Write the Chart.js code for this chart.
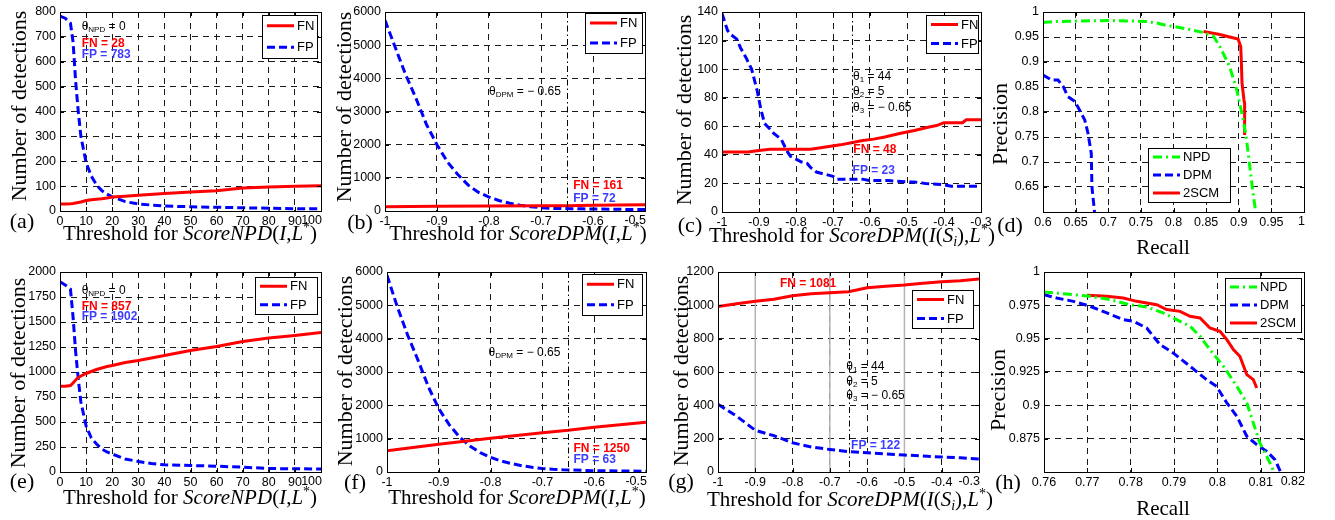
<!DOCTYPE html>
<html>
<head>
<meta charset="utf-8">
<title>FN / FP and precision-recall curves</title>
<script src="https://cdn.jsdelivr.net/npm/chart.js@4/dist/chart.umd.min.js"></script>
<style>
  body { margin: 0; background: #fff; }
  #fig { position: relative; width: 1335px; height: 520px; overflow: hidden; font-family: 'Liberation Serif', 'Times New Roman', serif; color: #000; }
  #fig canvas { position: absolute; }
  .t { position: absolute; white-space: nowrap; line-height: 1; font-size: 21px; z-index: 5; }
  .xt { transform: translateX(-50%); }
  .yt { transform: translate(-50%, -50%) rotate(-90deg); font-size: 22px; }
  .pl { transform: translate(-50%, -50%); font-size: 22px; }
  .sp { font-size: 14px; position: relative; top: -8px; }
  .sb { font-size: 14px; position: relative; top: 4px; }
</style>
</head>
<body>
<div id="fig">
  <div class="t xt" style="left:190px;top:223px">Threshold for <i>ScoreNPD</i>(<i>I</i>,<i>L</i><span class="sp">*</span>)</div>
  <div class="t xt" style="left:518px;top:223px">Threshold for <i>ScoreDPM</i>(<i>I</i>,<i>L</i><span class="sp">*</span>)</div>
  <div class="t xt" style="left:852px;top:225px">Threshold for <i>ScoreDPM</i>(<i>I</i>(<i>S<span class="sb">i</span></i>),<i>L</i><span class="sp">*</span>)</div>
  <div class="t xt" style="left:1163px;top:237px">Recall</div>
  <div class="t xt" style="left:190px;top:487px">Threshold for <i>ScoreNPD</i>(<i>I</i>,<i>L</i><span class="sp">*</span>)</div>
  <div class="t xt" style="left:517px;top:487px">Threshold for <i>ScoreDPM</i>(<i>I</i>,<i>L</i><span class="sp">*</span>)</div>
  <div class="t xt" style="left:850px;top:489px">Threshold for <i>ScoreDPM</i>(<i>I</i>(<i>S<span class="sb">i</span></i>),<i>L</i><span class="sp">*</span>)</div>
  <div class="t xt" style="left:1163px;top:498px">Recall</div>

  <div class="t yt" style="left:19px;top:106px">Number of detections</div>
  <div class="t yt" style="left:344px;top:107px">Number of detections</div>
  <div class="t yt" style="left:684px;top:110px">Number of detections</div>
  <div class="t yt" style="left:1000px;top:124px">Precision</div>
  <div class="t yt" style="left:18px;top:373px">Number of detections</div>
  <div class="t yt" style="left:345px;top:371px">Number of detections</div>
  <div class="t yt" style="left:681px;top:371px">Number of detections</div>
  <div class="t yt" style="left:998px;top:390px">Precision</div>

  <div class="t pl" style="left:22px;top:221px">(a)</div>
  <div class="t pl" style="left:360px;top:222px">(b)</div>
  <div class="t pl" style="left:690px;top:225px">(c)</div>
  <div class="t pl" style="left:1010px;top:225px">(d)</div>
  <div class="t pl" style="left:22px;top:481px">(e)</div>
  <div class="t pl" style="left:355px;top:482px">(f)</div>
  <div class="t pl" style="left:681px;top:481px">(g)</div>
  <div class="t pl" style="left:1008px;top:482px">(h)</div>
</div>
<script>
// (a) NPD threshold, set 1
const aThreshold = [0, 2, 4, 5, 6, 7, 8, 10, 12, 14, 16, 18, 20, 25, 30, 40, 50, 60, 70, 80, 90, 100];
const aFN = [28, 28, 29, 30, 32, 34, 36, 42, 45, 47, 49, 52, 56, 59, 63, 70, 76, 81, 92, 96, 99, 102];
const aFP = [783, 775, 755, 680, 520, 400, 300, 195, 140, 105, 82, 68, 57, 38, 28, 20, 17, 15, 13, 11, 9, 9];

// (b) DPM threshold, set 1
const bThreshold = [-1, -0.98, -0.96, -0.94, -0.92, -0.9, -0.88, -0.86, -0.84, -0.82, -0.8, -0.78, -0.76, -0.74, -0.72, -0.7, -0.68, -0.66, -0.64, -0.62, -0.6, -0.55, -0.5];
const bFP = [5750, 4920, 4100, 3380, 2600, 2000, 1480, 1100, 780, 560, 420, 310, 235, 175, 130, 100, 80, 73, 70, 65, 60, 50, 45];
const bThresholdFN = [-1, -0.9, -0.8, -0.7, -0.65, -0.6, -0.5];
const bFN = [125, 140, 150, 155, 161, 170, 190];

// (c) two-stage, set 1
const cThresholdFP = [-1, -0.985, -0.975, -0.96, -0.95, -0.935, -0.92, -0.905, -0.895, -0.885, -0.87, -0.86, -0.84, -0.825, -0.815, -0.8, -0.785, -0.77, -0.76, -0.745, -0.73, -0.715, -0.7, -0.69, -0.62, -0.6, -0.55, -0.5, -0.48, -0.45, -0.42, -0.4, -0.38, -0.3];
const cFP = [139, 127, 124, 121, 115, 108, 100, 85, 72, 62, 58, 55, 51, 43, 39, 37, 35, 34, 31, 28, 27, 26, 25, 23, 23, 22, 22, 21, 21, 20, 19.5, 19, 18, 18];
const cThresholdFN = [-1, -0.93, -0.9, -0.87, -0.76, -0.72, -0.68, -0.65, -0.62, -0.59, -0.56, -0.52, -0.48, -0.44, -0.42, -0.4, -0.35, -0.34, -0.3];
const cFN = [42, 42, 43, 44, 44, 45.5, 47, 48.5, 50, 51, 52.5, 55, 57, 59.5, 60.5, 62.5, 62.5, 64.5, 64.5];

// (d) precision / recall, set 1
const dNpdRecall = [0.6, 0.62, 0.66, 0.7, 0.74, 0.758, 0.774, 0.789, 0.805, 0.825, 0.846, 0.861, 0.871, 0.886, 0.897, 0.907, 0.912, 0.917, 0.922, 0.926];
const dNpdPrecision = [0.979, 0.981, 0.982, 0.983, 0.982, 0.981, 0.978, 0.973, 0.970, 0.965, 0.959, 0.952, 0.931, 0.891, 0.844, 0.784, 0.744, 0.690, 0.637, 0.600];
const dDpmRecall = [0.6, 0.613, 0.623, 0.631, 0.638, 0.649, 0.656, 0.664, 0.669, 0.674, 0.675, 0.679];
const dDpmPrecision = [0.874, 0.864, 0.864, 0.851, 0.831, 0.821, 0.804, 0.784, 0.757, 0.717, 0.65, 0.6];
const d2scmRecall = [0.846, 0.871, 0.886, 0.899, 0.903, 0.904, 0.905, 0.908, 0.909, 0.909];
const d2scmPrecision = [0.961, 0.955, 0.950, 0.946, 0.931, 0.900, 0.858, 0.824, 0.817, 0.754];

// (e) NPD threshold, set 2
const eThreshold = [0, 2, 4, 5, 6, 7, 8, 10, 12, 14, 16, 18, 20, 25, 30, 35, 40, 50, 60, 70, 80, 90, 100];
const eFN = [857, 858, 865, 890, 920, 945, 960, 985, 1005, 1025, 1040, 1055, 1065, 1095, 1115, 1140, 1165, 1215, 1255, 1305, 1340, 1365, 1395];
const eFP = [1902, 1870, 1830, 1550, 1200, 930, 700, 460, 340, 280, 230, 200, 180, 130, 105, 85, 72, 65, 58, 48, 35, 32, 30];

// (f) DPM threshold, set 2
const fThreshold = [-1, -0.98, -0.96, -0.94, -0.92, -0.9, -0.88, -0.86, -0.84, -0.82, -0.8, -0.78, -0.76, -0.74, -0.72, -0.7, -0.68, -0.66, -0.64, -0.62, -0.6, -0.55, -0.5];
const fFP = [5900, 4950, 4100, 3350, 2550, 1900, 1420, 1050, 780, 580, 440, 330, 255, 190, 140, 105, 80, 65, 60, 50, 40, 30, 25];
const fThresholdFN = [-1, -0.9, -0.8, -0.7, -0.65, -0.6, -0.5];
const fFN = [640, 830, 1010, 1180, 1250, 1340, 1490];

// (g) two-stage, set 2
const gThreshold = [-1, -0.95, -0.9, -0.85, -0.8, -0.75, -0.7, -0.65, -0.6, -0.55, -0.5, -0.45, -0.4, -0.35, -0.3];
const gFN = [993, 1009, 1025, 1037, 1058, 1069, 1076, 1081, 1105, 1115, 1122, 1132, 1141, 1148, 1158];
const gFP = [406, 335, 250, 218, 175, 150, 135, 122, 115, 108, 102, 96, 90, 85, 78];
const gMarkers = [-0.9, -0.7, -0.5];

// (h) precision / recall, set 2
const hNpdRecall = [0.76, 0.7652, 0.7706, 0.7752, 0.7798, 0.7837, 0.7875, 0.7906, 0.7937, 0.796, 0.7983, 0.8014, 0.8045, 0.8068, 0.8083, 0.8098, 0.8114, 0.8131];
const hNpdPrecision = [0.985, 0.9835, 0.9818, 0.9793, 0.9755, 0.9738, 0.9693, 0.9643, 0.9593, 0.9518, 0.9418, 0.9293, 0.9143, 0.9018, 0.8868, 0.8718, 0.8618, 0.85];
const hDpmRecall = [0.76, 0.7629, 0.7668, 0.7706, 0.7745, 0.7783, 0.7806, 0.7837, 0.7852, 0.7868, 0.7898, 0.7937, 0.7975, 0.7998, 0.8022, 0.8045, 0.8068, 0.8091, 0.8114, 0.8133, 0.8146];
const hDpmPrecision = [0.983, 0.9805, 0.978, 0.9743, 0.9693, 0.9643, 0.963, 0.958, 0.9518, 0.9455, 0.9393, 0.9293, 0.9193, 0.9143, 0.9018, 0.8918, 0.8768, 0.8705, 0.8655, 0.8593, 0.85];
const h2scmRecall = [0.77, 0.7745, 0.7783, 0.7814, 0.786, 0.7883, 0.7914, 0.7937, 0.796, 0.7983, 0.8006, 0.8022, 0.8037, 0.8052, 0.8068, 0.8083, 0.8091];
const h2scmPrecision = [0.9825, 0.9818, 0.9805, 0.978, 0.9755, 0.9718, 0.9705, 0.9668, 0.9655, 0.958, 0.9555, 0.9493, 0.9418, 0.9368, 0.923, 0.9193, 0.913];

const SANS = "'Liberation Sans', Arial, sans-serif";
const TICK_FONT = '12.5px ' + SANS;
const RED = '#ff0000', BLUE = '#0000ff', GREEN = '#00ff00', NOTE_BLUE = '#3d3dff';
const SOLID = [], DASH = [8, 4], DASHDOT = [9, 4, 2, 4];
// canvas margin around each plot box
const PAD_L = 55, PAD_T = 12, PAD_R = 25, PAD_B = 24;

function line(label, xs, ys, color, dash) {
    return {
        label: label,
        data: xs.map((x, i) => ({ x: x, y: ys[i] })),
        borderColor: color,
        borderWidth: 3,
        borderDash: dash,
        borderCapStyle: 'butt',
        pointRadius: 0,
        tension: 0,
        fill: false
    };
}

const theta = (sub, rest) => [{ t: 'θ' }, { t: sub, sub: true }, { t: rest }];
const fmt = v => String(Math.round(v * 1000) / 1000);

const panels = [
    { id: 'a', rect: [60, 12, 321, 211],
      x: { min: 0, max: 100, step: 10, lastInside: true }, y: { min: 0, max: 800, step: 100 },
      series: [line('FN', aThreshold, aFN, RED, SOLID), line('FP', aThreshold, aFP, BLUE, DASH)],
      legend: { x: 202, y: 3, w: 55, h: 43 },
      notes: [
          { x: 8.3, y: 740, parts: theta('NPD', ' = 0'), color: '#000' },
          { x: 8.3, y: 672, parts: [{ t: 'FN = 28' }], color: RED, bold: true },
          { x: 8.3, y: 627, parts: [{ t: 'FP = 783' }], color: NOTE_BLUE, bold: true }
      ] },
    { id: 'b', rect: [385, 12, 645, 211],
      x: { min: -1, max: -0.5, step: 0.1, lastInside: true }, y: { min: 0, max: 6000, step: 1000 },
      series: [line('FN', bThresholdFN, bFN, RED, SOLID), line('FP', bThreshold, bFP, BLUE, DASH)],
      legend: { x: 200, y: 1, w: 57, h: 40 },
      refLine: -0.65,
      notes: [
          { x: -0.80, y: 3600, parts: theta('DPM', ' = − 0.65'), color: '#000' },
          { x: -0.638, y: 754, parts: [{ t: 'FN = 161' }], color: RED, bold: true },
          { x: -0.638, y: 362, parts: [{ t: 'FP = 72' }], color: NOTE_BLUE, bold: true }
      ] },
    { id: 'c', rect: [722, 12, 981, 212],
      x: { min: -1, max: -0.3, step: 0.1 }, y: { min: 0, max: 140, step: 20 },
      series: [line('FN', cThresholdFN, cFN, RED, SOLID), line('FP', cThresholdFP, cFP, BLUE, DASH)],
      legend: { x: 204, y: 3, w: 52, h: 38 },
      refLine: -0.65,
      notes: [
          { x: -0.646, y: 94.7, parts: theta('1', ' = 44'), color: '#000' },
          { x: -0.646, y: 84.2, parts: theta('2', ' = 5'), color: '#000' },
          { x: -0.646, y: 73, parts: theta('3', ' = − 0.65'), color: '#000' },
          { x: -0.645, y: 43.4, parts: [{ t: 'FN = 48' }], color: RED, bold: true },
          { x: -0.647, y: 28.9, parts: [{ t: 'FP = 23' }], color: NOTE_BLUE, bold: true }
      ] },
    { id: 'd', rect: [1043, 12, 1304, 212],
      x: { min: 0.6, max: 1, step: 0.05, lastInside: true }, y: { min: 0.6, max: 1, step: 0.05, hideMin: true },
      series: [line('NPD', dNpdRecall, dNpdPrecision, GREEN, DASHDOT),
               line('DPM', dDpmRecall, dDpmPrecision, BLUE, DASH),
               line('2SCM', d2scmRecall, d2scmPrecision, RED, SOLID)],
      legend: { x: 105, y: 136, w: 82, h: 54 },
      notes: [] },
    { id: 'e', rect: [60, 272, 321, 472],
      x: { min: 0, max: 100, step: 10, lastInside: true }, y: { min: 0, max: 2000, step: 250 },
      series: [line('FN', eThreshold, eFN, RED, SOLID), line('FP', eThreshold, eFP, BLUE, DASH)],
      legend: { x: 195, y: 5, w: 62, h: 37 },
      notes: [
          { x: 8.3, y: 1813, parts: theta('NPD', ' = 0'), color: '#000' },
          { x: 8.3, y: 1653, parts: [{ t: 'FN = 857' }], color: RED, bold: true },
          { x: 8.3, y: 1553, parts: [{ t: 'FP = 1902' }], color: NOTE_BLUE, bold: true }
      ] },
    { id: 'f', rect: [387, 272, 646, 472],
      x: { min: -1, max: -0.5, step: 0.1, lastInside: true }, y: { min: 0, max: 6000, step: 1000 },
      series: [line('FN', fThresholdFN, fFN, RED, SOLID), line('FP', fThreshold, fFP, BLUE, DASH)],
      legend: { x: 195, y: 2, w: 60, h: 41 },
      refLine: -0.65,
      notes: [
          { x: -0.804, y: 3591, parts: theta('DPM', ' = − 0.65'), color: '#000' },
          { x: -0.640, y: 711, parts: [{ t: 'FN = 1250' }], color: RED, bold: true },
          { x: -0.640, y: 360, parts: [{ t: 'FP = 63' }], color: NOTE_BLUE, bold: true }
      ] },
    { id: 'g', rect: [718, 272, 979, 472],
      x: { min: -1, max: -0.3, step: 0.1, lastInside: true }, y: { min: 0, max: 1200, step: 200 },
      series: [line('FN', gThreshold, gFN, RED, SOLID), line('FP', gThreshold, gFP, BLUE, DASH)],
      legend: { x: 194, y: 18, w: 61, h: 38 },
      refLine: -0.65,
      grayLines: gMarkers,
      notes: [
          { x: -0.834, y: 1128, parts: [{ t: 'FN = 1081' }], color: RED, bold: true },
          { x: -0.656, y: 632, parts: theta('1', ' = 44'), color: '#000' },
          { x: -0.656, y: 542, parts: theta('2', ' = 5'), color: '#000' },
          { x: -0.656, y: 456, parts: theta('3', ' = − 0.65'), color: '#000' },
          { x: -0.643, y: 156, parts: [{ t: 'FP = 122' }], color: NOTE_BLUE, bold: true }
      ] },
    { id: 'h', rect: [1044, 272, 1304, 472],
      x: { min: 0.76, max: 0.82, step: 0.01, lastInside: true }, y: { min: 0.85, max: 1, step: 0.025, hideMin: true },
      series: [line('NPD', hNpdRecall, hNpdPrecision, GREEN, DASHDOT),
               line('DPM', hDpmRecall, hDpmPrecision, BLUE, DASH),
               line('2SCM', h2scmRecall, h2scmPrecision, RED, SOLID)],
      legend: { x: 181, y: 6, w: 76, h: 54 },
      notes: [] }
];

function axis(s, dir) {
    return {
        type: 'linear',
        min: s.min,
        max: s.max,
        ticks: {
            stepSize: s.step,
            autoSkip: false,
            maxRotation: 0,
            padding: dir === 'x' ? 3 : 4,
            color: '#000',
            font: { family: SANS, size: 12.5 },
            callback: v => {
                if (s.hideMin && Math.abs(v - s.min) < 1e-9) return '';
                // the last x label is drawn by the panel plugin, flush with the box
                if (s.lastInside && Math.abs(v - s.max) < 1e-9) return '';
                return fmt(v);
            }
        },
        grid: { color: '#1a1a1a', lineWidth: 1, drawTicks: false },
        border: { display: false, dash: [6, 5] },
        afterFit: sc => {
            if (dir === 'x') sc.height = PAD_B; else sc.width = PAD_L;
        }
    };
}

// frame, inward ticks, reference lines, text notes and the boxed legend
function panelPlugin(p) {
    return {
        id: 'panel_' + p.id,
        beforeDatasetsDraw(chart) {
            if (!p.grayLines) return;
            const { ctx, chartArea: a, scales } = chart;
            ctx.save();
            ctx.strokeStyle = '#b4b4b4';
            ctx.lineWidth = 1.5;
            p.grayLines.forEach(v => {
                const px = scales.x.getPixelForValue(v);
                ctx.beginPath();
                ctx.moveTo(px, a.top);
                ctx.lineTo(px, a.bottom);
                ctx.stroke();
            });
            ctx.restore();
        },
        afterDraw(chart) {
            const { ctx, chartArea: a, scales } = chart;
            ctx.save();

            if (p.x.lastInside) {
                ctx.fillStyle = '#000';
                ctx.font = TICK_FONT;
                ctx.textAlign = 'right';
                ctx.textBaseline = 'top';
                ctx.fillText(fmt(p.x.max), a.right + 1, a.bottom + 3);
            }

            if (p.refLine !== undefined) {
                const px = Math.round(scales.x.getPixelForValue(p.refLine)) + 0.5;
                ctx.strokeStyle = '#000';
                ctx.lineWidth = 1;
                ctx.setLineDash([6, 3, 1.5, 3]);
                ctx.beginPath();
                ctx.moveTo(px, a.top);
                ctx.lineTo(px, a.bottom);
                ctx.stroke();
                ctx.setLineDash([]);
            }

            p.notes.forEach(n => {
                let cx = scales.x.getPixelForValue(n.x);
                const cy = scales.y.getPixelForValue(n.y);
                ctx.fillStyle = n.color;
                ctx.textAlign = 'left';
                ctx.textBaseline = 'middle';
                n.parts.forEach(part => {
                    ctx.font = (n.bold ? 'bold ' : '') + (part.sub ? '8px ' : '12px ') + SANS;
                    ctx.fillText(part.t, cx, part.sub ? cy + 3 : cy);
                    cx += ctx.measureText(part.t).width;
                });
            });

            ctx.strokeStyle = '#000';
            ctx.lineWidth = 1;
            ctx.beginPath();
            scales.x.ticks.forEach(t => {
                const px = Math.round(scales.x.getPixelForValue(t.value)) + 0.5;
                ctx.moveTo(px, a.bottom); ctx.lineTo(px, a.bottom - 4);
                ctx.moveTo(px, a.top); ctx.lineTo(px, a.top + 4);
            });
            scales.y.ticks.forEach(t => {
                const py = Math.round(scales.y.getPixelForValue(t.value)) + 0.5;
                ctx.moveTo(a.left, py); ctx.lineTo(a.left + 4, py);
                ctx.moveTo(a.right, py); ctx.lineTo(a.right - 4, py);
            });
            ctx.stroke();
            ctx.strokeRect(Math.round(a.left) + 0.5, Math.round(a.top) + 0.5,
                Math.round(a.right - a.left), Math.round(a.bottom - a.top));

            const L = p.legend;
            const bx = Math.round(a.left + L.x), by = Math.round(a.top + L.y);
            ctx.fillStyle = '#fff';
            ctx.fillRect(bx, by, L.w, L.h);
            ctx.strokeRect(bx + 0.5, by + 0.5, L.w, L.h);
            const ds = chart.data.datasets;
            ds.forEach((d, i) => {
                const ry = by + L.h * (i + 0.5) / ds.length;
                ctx.strokeStyle = d.borderColor;
                ctx.lineWidth = d.borderWidth;
                ctx.setLineDash(d.borderDash);
                ctx.beginPath();
                ctx.moveTo(bx + 5, ry);
                ctx.lineTo(bx + 32, ry);
                ctx.stroke();
                ctx.setLineDash([]);
                ctx.fillStyle = '#000';
                ctx.font = '13px ' + SANS;
                ctx.textAlign = 'left';
                ctx.textBaseline = 'middle';
                ctx.fillText(d.label, bx + 35, ry + 0.5);
            });
            ctx.restore();
        }
    };
}

const fig = document.getElementById('fig');
panels.forEach(p => {
    const [L, T, R, B] = p.rect;
    const cv = document.createElement('canvas');
    cv.width = R - L + PAD_L + PAD_R;
    cv.height = B - T + PAD_T + PAD_B;
    cv.style.left = (L - PAD_L) + 'px';
    cv.style.top = (T - PAD_T) + 'px';
    fig.appendChild(cv);

    new Chart(cv.getContext('2d'), {
        type: 'line',
        data: { datasets: p.series },
        options: {
            responsive: false,
            animation: false,
            devicePixelRatio: 1,
            layout: { padding: { left: 0, top: PAD_T, right: PAD_R, bottom: 0 } },
            plugins: { legend: { display: false }, tooltip: { enabled: false } },
            scales: { x: axis(p.x, 'x'), y: axis(p.y, 'y') }
        },
        plugins: [panelPlugin(p)]
    });
});
</script>
</body>
</html>
